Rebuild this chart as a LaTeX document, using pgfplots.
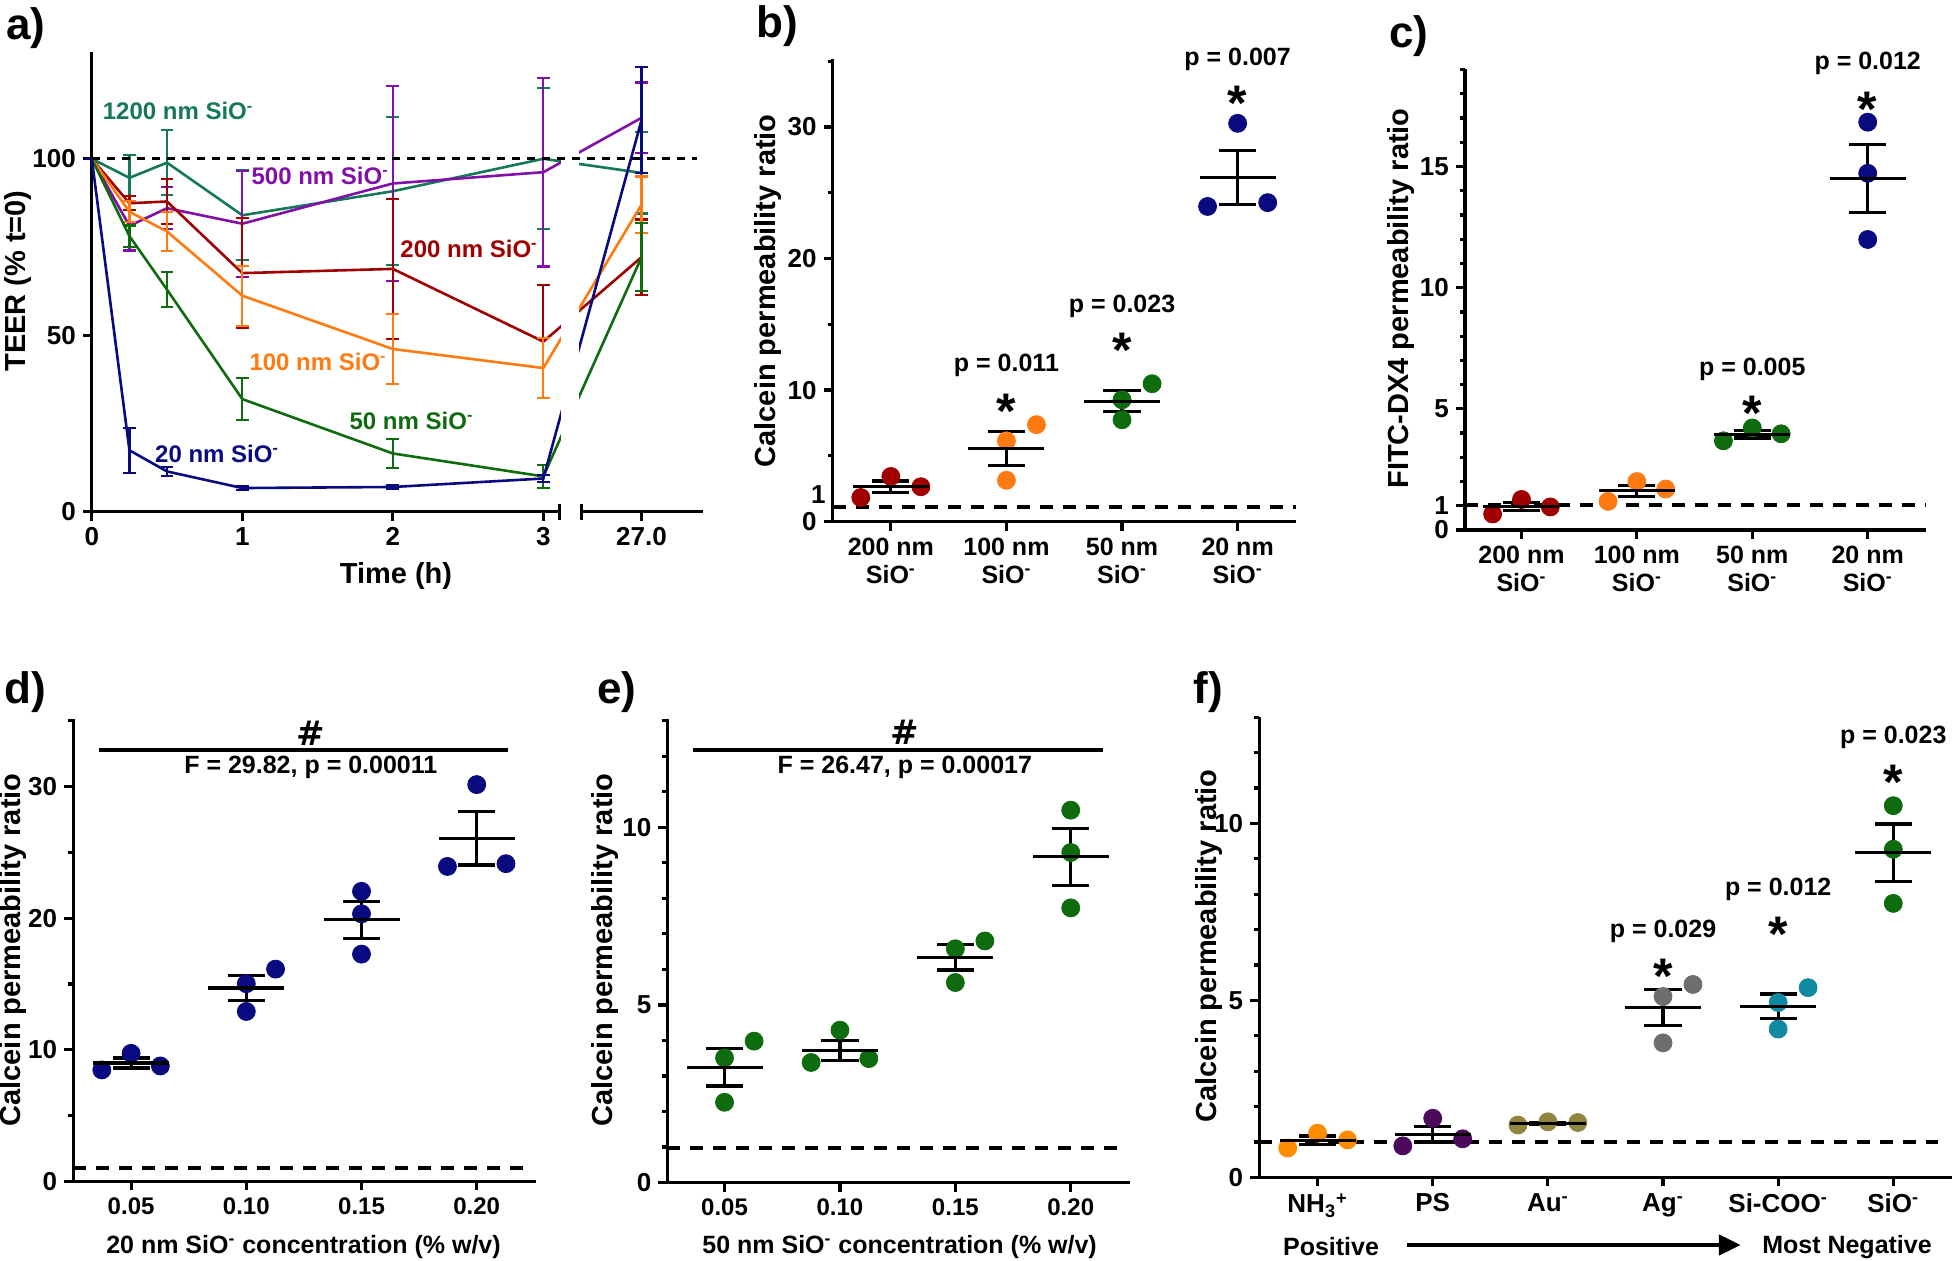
\documentclass[border=0pt]{standalone}
\usepackage{fontspec}
\setmainfont{Liberation Sans}
\newfontfamily\dejavu{DejaVu Sans}
\usepackage{pgfplots}
\pgfplotsset{compat=1.18}
\usetikzlibrary{arrows.meta}

\definecolor{cTeal}{HTML}{16785A}
\definecolor{cPurp}{HTML}{8010A8}
\definecolor{cRed}{HTML}{A00000}
\definecolor{cOrg}{HTML}{FF7A10}
\definecolor{cGrn}{HTML}{0E6B0E}
\definecolor{cNavy}{HTML}{0A0A80}
\definecolor{fOrg}{HTML}{FF8C00}
\definecolor{fPS}{HTML}{4B0A5A}
\definecolor{fAu}{HTML}{8F8540}
\definecolor{fAg}{HTML}{6E6E6E}
\definecolor{fCOO}{HTML}{1089A3}

\newcommand{\myfs}[1]{\fontsize{#1}{#1}\selectfont\bfseries}
\newcommand{\sm}{\textsuperscript{-}}

\pgfplotsset{
  panel/.style={
    scale only axis, anchor=south west, clip=false,
    axis lines*=left,
    axis line style={line width=1.6pt, black},
    tick align=outside,
    major tick style={line width=1.6pt, black},
    minor tick style={line width=1.6pt, black},
    major tick length=4.5pt, minor tick length=2.5pt,
    tick label style={font=\myfs{13}},
    /pgf/number format/assume math mode=true,
    ymin=0,
  },
  dots/.style={only marks, mark=*, mark size=4.5pt, color=#1, mark options={fill=#1, draw=#1}},
  semplot/.style={only marks, mark=-, mark size=19pt, mark options={black, line width=1.6pt},
    error bars/.cd, y dir=both, y explicit, error bar style={black, line width=1.6pt},
    error mark=|, error mark options={black, line width=1.6pt, mark size=9.3pt}},
  refline/.style={black, line width=2pt, dash pattern=on 6.5pt off 5pt, mark=none},
  teer/.style={#1, line width=1.3pt, mark=none,
    error bars/.cd, y dir=both, y explicit, error bar style={line width=1.1pt},
    error mark=|, error mark options={line width=1.1pt, mark size=3.2pt}},
}

\begin{document}
\begin{tikzpicture}
\path[use as bounding box] (0,0) rectangle (976pt,630.5pt);

% ---------------- Panel a ----------------
\begin{axis}[panel, at={(45.9pt,374.65pt)}, width=305.4pt, height=230pt,
  xmin=0, xmax=4.058, ymax=130.35,
  xtick={0,1,2,3,3.652}, xticklabels={0,1,2,3,27.0},
  ytick={0,50,100},
  x axis line style={draw=none}]
\addplot[teer=cTeal] coordinates {(0,100)+-(0,0) (0.25,94.6)+-(0,6.5) (0.5,98.9)+-(0,9.2) (1,84)+-(0,12.7) (2,90.8)+-(0,21) (3,100)+-(0,20) (3.652,96)+-(0,11.5)};
\addplot[teer=cPurp] coordinates {(0,100)+-(0,0) (0.25,81)+-(0,7) (0.5,86)+-(0,6) (1,81.6)+-(0,15) (2,93)+-(0,27.7) (3,96.2)+-(0,26.7) (3.652,111.6)+-(0,10)};
\addplot[teer=cRed] coordinates {(0,100)+-(0,0) (0.25,87.4)+-(0,2) (0.5,87.9)+-(0,6.4) (1,67.6)+-(0,15.6) (2,68.8)+-(0,19.8) (3,48.2)+-(0,16) (3.652,72.1)+-(0,10.7)};
\addplot[teer=cOrg] coordinates {(0,100)+-(0,0) (0.25,85)+-(0,3) (0.5,79.4)+-(0,5.5) (1,61.2)+-(0,8.5) (2,46.1)+-(0,10) (3,40.7)+-(0,8.5) (3.652,87)+-(0,8)};
\addplot[teer=cGrn] coordinates {(0,100)+-(0,0) (0.25,78.1)+-(0,3) (0.5,62.9)+-(0,5) (1,31.9)+-(0,6) (2,16.5)+-(0,4.2) (3,10)+-(0,3.2) (3.652,72.1)+-(0,9.6)};
\addplot[teer=cNavy] coordinates {(0,100)+-(0,0) (0.25,17.4)+-(0,6.4) (0.5,11.4)+-(0,1.2) (1,6.7)+-(0,0.5) (2,7)+-(0,0.5) (3,9.4)+-(0,1) (3.652,110.9)+-(0,15)};
\fill[white] (axis cs:3.119,0.9) rectangle (axis cs:3.236,129);
\addplot[black, line width=1.6pt, dash pattern=on 4pt off 3.5pt] coordinates {(0,100) (4.02,100)};
\draw[line width=1.6pt] (axis cs:0,0) -- (axis cs:3.106,0);
\draw[line width=1.6pt] (axis cs:3.106,-2.3) -- (axis cs:3.106,2.3);
\draw[line width=1.6pt] (axis cs:3.256,0) -- (axis cs:4.058,0);
\draw[line width=1.6pt] (axis cs:3.256,-2.3) -- (axis cs:3.256,2.3);
\node[cTeal, font=\myfs{12}] at (axis cs:0.573,113.5) {1200 nm SiO\sm};
\node[cPurp, font=\myfs{12}] at (axis cs:1.517,95.1) {500 nm SiO\sm};
\node[cRed, font=\myfs{12}] at (axis cs:2.506,74.5) {200 nm SiO\sm};
\node[cOrg, font=\myfs{12}] at (axis cs:1.503,42.5) {100 nm SiO\sm};
\node[cGrn, font=\myfs{12}] at (axis cs:2.124,25.7) {50 nm SiO\sm};
\node[cNavy, font=\myfs{12}] at (axis cs:0.832,16.5) {20 nm SiO\sm};
\end{axis}

% ---------------- Panel b ----------------
\begin{axis}[panel, at={(416.35pt,369.7pt)}, width=231.7pt, height=231.15pt,
  xmin=-0.503, xmax=3.506, ymax=35.15,
  ytick={0,10,20,30}, minor ytick={5,15,25,35},
  extra y ticks={1}, extra y tick labels={1},
  extra y tick style={major tick length=0pt, yticklabel style={yshift=7pt}},
  xtick={0,1,2,3},
  xticklabels={{200 nm\\SiO\sm},{100 nm\\SiO\sm},{50 nm\\SiO\sm},{20 nm\\SiO\sm}},
  xticklabel style={align=center, font=\fontsize{12.5}{14}\selectfont\bfseries}]
\addplot[refline] coordinates {(-0.503,1.1) (3.506,1.1)};
\addplot[dots=cRed] coordinates {(-0.26,1.83) (0,3.43) (0.26,2.65)};
\addplot[dots=cOrg] coordinates {(1,3.14) (1,6.14) (1.26,7.37)};
\addplot[dots=cGrn] coordinates {(2,9.26) (2,7.74) (2.26,10.48)};
\addplot[dots=cNavy] coordinates {(2.74,23.96) (3,30.28) (3.26,24.25)};
\addplot[semplot] coordinates {(0,2.64)+-(0,0.44) (1,5.55)+-(0,1.3) (2,9.16)+-(0,0.8) (3,26.16)+-(0,2.05)};
\node[font=\myfs{12.5}] at (axis cs:1,11.87) {p = 0.011};
\node[font=\myfs{25}, anchor=base] at (axis cs:1,7.08) {*};
\node[font=\myfs{12.5}] at (axis cs:2,16.38) {p = 0.023};
\node[font=\myfs{25}, anchor=base] at (axis cs:2,11.74) {*};
\node[font=\myfs{12.5}] at (axis cs:3,35.15) {p = 0.007};
\node[font=\myfs{25}, anchor=base] at (axis cs:3,30.52) {*};
\end{axis}

% ---------------- Panel c ----------------
\begin{axis}[panel, at={(732.45pt,365.5pt)}, width=230.65pt, height=230.55pt,
  xmin=-0.49, xmax=3.507, ymax=19.03,
  ytick={0,1,5,10,15}, minor ytick={2,3,4,6,7,8,9,11,12,13,14,16,17,18,19},
  xtick={0,1,2,3},
  xticklabels={{200 nm\\SiO\sm},{100 nm\\SiO\sm},{50 nm\\SiO\sm},{20 nm\\SiO\sm}},
  xticklabel style={align=center, font=\fontsize{12.5}{14}\selectfont\bfseries}]
\addplot[refline] coordinates {(-0.49,1.02) (3.507,1.02)};
\addplot[dots=cRed] coordinates {(-0.25,0.66) (0,1.26) (0.25,0.95)};
\addplot[dots=cOrg] coordinates {(0.75,1.18) (1,2.0) (1.25,1.69)};
\addplot[dots=cGrn] coordinates {(1.75,3.68) (2,4.21) (2.25,3.97)};
\addplot[dots=cNavy] coordinates {(3,16.83) (3,14.72) (3,11.99)};
\addplot[semplot] coordinates {(0,0.96)+-(0,0.17) (1,1.62)+-(0,0.23) (2,3.95)+-(0,0.15) (3,14.51)+-(0,1.4)};
\node[font=\myfs{12.5}] at (axis cs:2,6.63) {p = 0.005};
\node[font=\myfs{25}, anchor=base] at (axis cs:2,4.11) {*};
\node[font=\myfs{12.5}] at (axis cs:3,19.27) {p = 0.012};
\node[font=\myfs{25}, anchor=base] at (axis cs:3,16.67) {*};
\end{axis}

% ---------------- Panel d ----------------
\begin{axis}[panel, at={(36.6pt,39.8pt)}, width=231.25pt, height=231.1pt,
  xmin=0.02487, xmax=0.2256, ymax=35.12,
  ytick={0,10,20,30}, minor ytick={5,15,25,35},
  xtick={0.05,0.1,0.15,0.2}, xticklabels={0.05,0.10,0.15,0.20},
  xticklabel style={font=\myfs{12}}]
\addplot[refline] coordinates {(0.02487,1.05) (0.2225,1.05)};
\addplot[dots=cNavy] coordinates {(0.0373,8.47) (0.05,9.73) (0.0627,8.77) (0.1,12.91) (0.1,15.02) (0.1127,16.13) (0.15,22.04) (0.15,20.33) (0.15,17.27) (0.1873,23.93) (0.2,30.15) (0.2127,24.14)};
\addplot[semplot] coordinates {(0.05,8.99)+-(0,0.38) (0.1,14.69)+-(0,0.95) (0.15,19.88)+-(0,1.41) (0.2,26.07)+-(0,2.03)};
\draw[line width=2pt] (axis cs:0.0362,32.8) -- (axis cs:0.2135,32.8);
\node[font=\dejavu\fontsize{17}{17}\selectfont\bfseries] at (axis cs:0.128,34.07) {\#};
\node[font=\myfs{12.5}] at (axis cs:0.128,31.45) {F = 29.82, p = 0.00011};
\end{axis}

% ---------------- Panel e ----------------
\begin{axis}[panel, at={(333.65pt,39.2pt)}, width=231.15pt, height=231.7pt,
  xmin=0.0252, xmax=0.2255, ymax=13.04,
  ytick={0,5,10}, minor ytick={1,2,3,4,6,7,8,9,11,12,13},
  xtick={0.05,0.1,0.15,0.2}, xticklabels={0.05,0.10,0.15,0.20},
  xticklabel style={font=\myfs{12}}]
\addplot[refline] coordinates {(0.0252,0.97) (0.2223,0.97)};
\addplot[dots=cGrn] coordinates {(0.05,3.51) (0.05,2.26) (0.0628,3.98) (0.0875,3.38) (0.1,4.29) (0.1125,3.49) (0.15,6.58) (0.15,5.63) (0.1628,6.8) (0.2,10.48) (0.2,9.29) (0.2,7.73)};
\addplot[semplot] coordinates {(0.05,3.25)+-(0,0.53) (0.1,3.72)+-(0,0.28) (0.15,6.34)+-(0,0.36) (0.2,9.17)+-(0,0.8)};
\draw[line width=2pt] (axis cs:0.0364,12.18) -- (axis cs:0.2138,12.18);
\node[font=\dejavu\fontsize{17}{17}\selectfont\bfseries] at (axis cs:0.1281,12.68) {\#};
\node[font=\myfs{12.5}] at (axis cs:0.1281,11.68) {F = 26.47, p = 0.00017};
\end{axis}

% ---------------- Panel f ----------------
\begin{axis}[panel, at={(629.55pt,41.8pt)}, width=346.45pt, height=230.1pt,
  xmin=-0.508, xmax=5.51, ymax=13.0,
  ytick={0,5,10}, minor ytick={1,2,3,4,6,7,8,9,11,12,13},
  xtick={0,1,2,3,4,5},
  xticklabels={NH\textsubscript{3}\textsuperscript{+}, PS, Au\sm, Ag\sm, Si-COO\sm, SiO\sm}]
\addplot[refline] coordinates {(-0.508,1.0) (5.39,1.0)};
\addplot[dots=fOrg] coordinates {(-0.26,0.83) (0,1.25) (0.26,1.06)};
\addplot[dots=fPS] coordinates {(0.74,0.89) (1,1.67) (1.26,1.09)};
\addplot[dots=fAu] coordinates {(1.74,1.48) (2,1.57) (2.26,1.55)};
\addplot[dots=fAg] coordinates {(3,3.80) (3,5.11) (3.26,5.45)};
\addplot[dots=fCOO] coordinates {(4,4.19) (4,4.94) (4.26,5.36)};
\addplot[dots=cGrn] coordinates {(5,10.5) (5,9.27) (5,7.74)};
\addplot[semplot] coordinates {(0,1.05)+-(0,0.12) (1,1.22)+-(0,0.22) (2,1.53)+-(0,0.03) (3,4.79)+-(0,0.51) (4,4.83)+-(0,0.35) (5,9.17)+-(0,0.81)};
\node[font=\myfs{12.5}] at (axis cs:3,6.96) {p = 0.029};
\node[font=\myfs{25}, anchor=base] at (axis cs:3,5.2) {*};
\node[font=\myfs{12.5}] at (axis cs:4,8.15) {p = 0.012};
\node[font=\myfs{25}, anchor=base] at (axis cs:4,6.38) {*};
\node[font=\myfs{12.5}] at (axis cs:5,12.44) {p = 0.023};
\node[font=\myfs{25}, anchor=base] at (axis cs:5,10.68) {*};
\end{axis}

% ---------------- Labels ----------------
\node[font=\myfs{22}] at (13pt,616.5pt) {a)};
\node[font=\myfs{22}] at (388.5pt,617.5pt) {b)};
\node[font=\myfs{22}] at (704.5pt,612.5pt) {c)};
\node[font=\myfs{22}] at (12.5pt,284.25pt) {d)};
\node[font=\myfs{22}] at (308.5pt,284.25pt) {e)};
\node[font=\myfs{22}] at (604.3pt,284.25pt) {f)};

\node[rotate=90, font=\myfs{14.5}] at (9.2pt,490pt) {TEER (\% t=0)};
\node[rotate=90, font=\myfs{14.5}] at (383.75pt,485.1pt) {Calcein permeability ratio};
\node[rotate=90, font=\myfs{14.5}] at (700.25pt,481.25pt) {FITC-DX4 permeability ratio};
\node[rotate=90, font=\myfs{14.5}] at (6.7pt,155.55pt) {Calcein permeability ratio};
\node[rotate=90, font=\myfs{14.5}] at (302.65pt,155.55pt) {Calcein permeability ratio};
\node[rotate=90, font=\myfs{14.5}] at (604.35pt,157.6pt) {Calcein permeability ratio};

\node[font=\myfs{14.5}] at (198pt,342.5pt) {Time (h)};
\node[font=\myfs{12.5}] at (151.75pt,7pt) {20 nm SiO\sm{} concentration (\% w/v)};
\node[font=\myfs{12.5}] at (449.8pt,7pt) {50 nm SiO\sm{} concentration (\% w/v)};
\node[font=\myfs{12.5}] at (665.5pt,7pt) {Positive};
\node[font=\myfs{12.5}] at (923.5pt,7pt) {Most Negative};
\draw[line width=2.2pt, -{Triangle[length=11pt, width=10pt]}] (703.35pt,8pt) -- (870.4pt,8pt);
\end{tikzpicture}
\end{document}
